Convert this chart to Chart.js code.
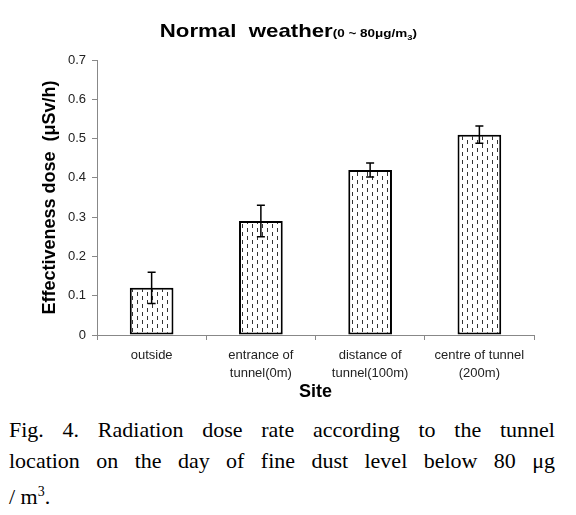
<!DOCTYPE html>
<html>
<head>
<meta charset="utf-8">
<script src="https://cdn.jsdelivr.net/npm/chart.js@4"></script>
<style>
    body { margin: 0; background: #fff; width: 576px; height: 515px; overflow: hidden; position: relative; }
    #wrap { position: absolute; left: 0; top: 0; width: 576px; height: 410px; }
    .title { position: absolute; left: 0; top: 20px; width: 576px; text-align: center; font-family: Arial, "Liberation Sans", sans-serif; font-weight: bold; color: #000; transform: scaleX(1.17); transform-origin: 286px 0; }
    .title .big { font-size: 19px; white-space: pre; }
    .title .small { font-size: 11.5px; }
    .caption { position: absolute; left: 9px; top: 414px; width: 546px; font-family: "Liberation Serif", "Times New Roman", serif; font-size: 22px; line-height: 31px; color: #000; }
    .caption .j { text-align: justify; text-align-last: justify; }
</style>
</head>
<body>
<div id="wrap"><canvas id="doseChart"></canvas></div>
<div class="title"><span class="big">Normal  weather</span><span class="small">(0 ~ 80μg/m<sub style="font-size:8px">3</sub>)</span></div>
<div class="caption">
    <div class="j">Fig. 4. Radiation dose rate according to the tunnel</div>
    <div class="j">location on the day of fine dust level below 80 μg</div>
    <div>/ m<sup style="font-size:14px">3</sup>.</div>
</div>
<script>
// Data
const sites = [['outside'], ['entrance of', 'tunnel(0m)'], ['distance of', 'tunnel(100m)'], ['centre of tunnel', '(200m)']];
const doseValues = [0.12, 0.29, 0.42, 0.51];
const doseErrors = [0.04, 0.04, 0.018, 0.022];
const yTicks = [0, 0.1, 0.2, 0.3, 0.4, 0.5, 0.6, 0.7];

// Dashed vertical hatch fill like the original bars
function makePattern() {
    const p = document.createElement('canvas');
    p.width = 10;
    p.height = 8;
    const c = p.getContext('2d');
    c.fillStyle = '#fff';
    c.fillRect(0, 0, 10, 8);
    c.fillStyle = '#333';
    c.fillRect(2, 0, 1, 4);
    c.fillRect(7, 4, 1, 4);
    return document.getElementById('doseChart').getContext('2d').createPattern(p, 'repeat');
}

// Error bars drawn through the scales
const errorBars = {
    id: 'errorBars',
    afterDatasetsDraw(chart) {
        const ctx = chart.ctx;
        const y = chart.scales.y;
        const meta = chart.getDatasetMeta(0);
        ctx.save();
        ctx.strokeStyle = '#000';
        ctx.lineWidth = 1.5;
        meta.data.forEach((bar, i) => {
            const top = y.getPixelForValue(doseValues[i] + doseErrors[i]);
            const bot = y.getPixelForValue(doseValues[i] - doseErrors[i]);
            ctx.beginPath();
            ctx.moveTo(bar.x, top);
            ctx.lineTo(bar.x, bot);
            ctx.moveTo(bar.x - 4, top);
            ctx.lineTo(bar.x + 4, top);
            ctx.moveTo(bar.x - 4, bot);
            ctx.lineTo(bar.x + 4, bot);
            ctx.stroke();
        });
        ctx.restore();
    }
};

const ctx = document.getElementById('doseChart').getContext('2d');
new Chart(ctx, {
    type: 'bar',
    data: {
        labels: sites,
        datasets: [{
            label: 'Effectiveness dose',
            data: doseValues,
            backgroundColor: makePattern(),
            borderColor: '#000',
            borderWidth: 2,
            borderSkipped: false,
            categoryPercentage: 1,
            barPercentage: 0.4
        }]
    },
    options: {
        responsive: true,
        maintainAspectRatio: false,
        animation: false,
        layout: { padding: { left: 35, right: 42, top: 60, bottom: 0 } },
        plugins: {
            legend: { display: false },
            tooltip: { enabled: false }
        },
        scales: {
            x: {
                offset: true,
                grid: { offset: true, drawOnChartArea: false, drawTicks: true, tickLength: 5, color: '#888' },
                border: { color: '#888', width: 1 },
                ticks: { color: '#222', font: { family: 'Arial', size: 13, lineHeight: 1.4 }, padding: 6, maxRotation: 0 },
                title: { display: true, text: 'Site', color: '#000', font: { family: 'Arial', size: 18, weight: 'bold' }, padding: { top: 0, bottom: 7 } },
                afterFit(scale) { scale.height = 75; }
            },
            y: {
                min: 0,
                max: 0.7,
                afterBuildTicks(scale) { scale.ticks = yTicks.map(v => ({ value: v })); },
                grid: { drawOnChartArea: false, tickLength: 5, color: '#888' },
                border: { color: '#888', width: 1 },
                ticks: {
                    color: '#222',
                    font: { family: 'Arial', size: 13 },
                    padding: 6,
                    callback: v => v === 0 ? '0' : v.toFixed(1)
                },
                title: { display: true, text: 'Effectiveness dose  (μSv/h)', color: '#000', font: { family: 'Arial', size: 18, weight: 'bold' }, padding: { bottom: 4 } },
                afterFit(scale) { scale.width = 62; }
            }
        }
    },
    plugins: [errorBars]
});
</script>
</body>
</html>
